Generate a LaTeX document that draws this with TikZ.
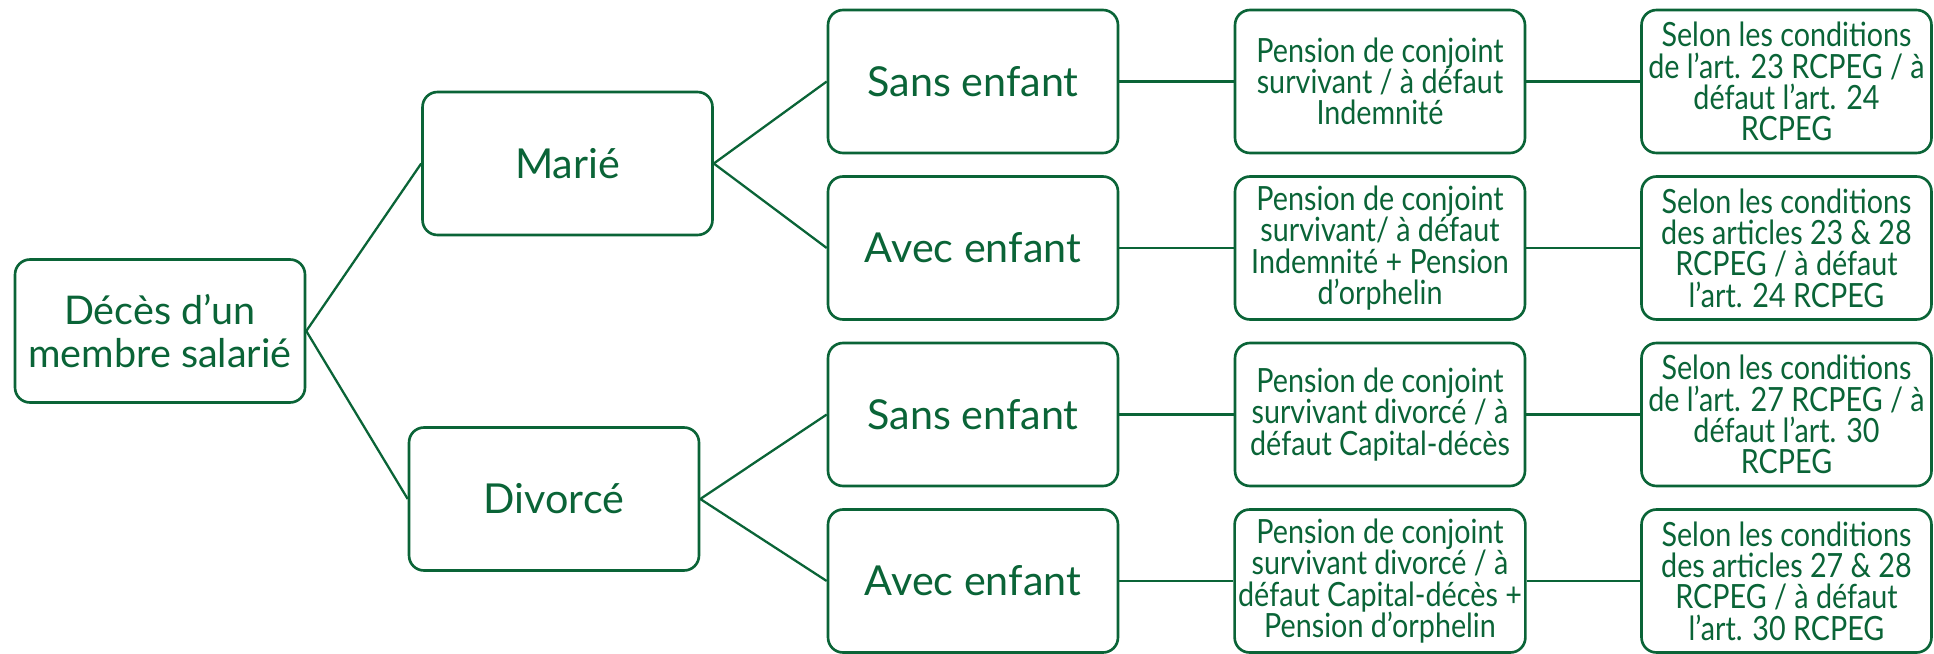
\documentclass[tikz,border=0pt]{standalone}
\usepackage{fontspec}
\setmainfont{Lato}
\newfontfamily\narrowfont[FakeStretch=0.86]{Lato}
\usetikzlibrary{positioning}
\definecolor{DecesGreen}{RGB}{10,100,55}

\begin{document}
\begin{tikzpicture}[x=0.02cm,y=-0.02cm,
  box/.style={draw=DecesGreen, line width=1.5pt, rounded corners=8.5pt, fill=white,
    minimum width=5.8cm, minimum height=2.86cm, align=center, text=DecesGreen, inner sep=2pt},
  bigtext/.style={box, font=\fontsize{23.5}{24.5}\selectfont},
  smalltext/.style={box, font=\narrowfont\fontsize{19}{17.8}\selectfont},
  link/.style={DecesGreen, line width=1.3pt}]
  \path[use as bounding box] (0,0) rectangle (1934,653);
  \path (160,331) node[bigtext, font=\fontsize{22.5}{24.5}\selectfont] (root) {Décès d’un\\membre salarié};
  \path (567.5,163.5) node[bigtext] (marie) {Marié};
  \path (554,499) node[bigtext] (divorce) {Divorcé};
  \path (973,81.5) node[bigtext] (ms) {Sans enfant};
  \path (973,248) node[bigtext] (ma) {Avec enfant};
  \path (973,414.5) node[bigtext] (ds) {Sans enfant};
  \path (973,581) node[bigtext] (da) {Avec enfant};
  \path (1380,81.5) node[smalltext] (pms) {Pension de conjoint\\survivant / à défaut\\Indemnité};
  \path (1380,248) node[smalltext] (pma) {Pension de conjoint\\survivant/ à défaut\\Indemnité + Pension\\d’orphelin};
  \path (1380,414.5) node[smalltext] (pds) {Pension de conjoint\\survivant divorcé / à\\défaut Capital-décès};
  \path (1380,581) node[smalltext] (pda) {Pension de conjoint\\survivant divorcé / à\\défaut Capital-décès +\\Pension d’orphelin};
  \path (1786.5,81.5) node[smalltext] (cms) {Selon les conditions\\de l’art. 23 RCPEG / à\\défaut l’art. 24\\RCPEG};
  \path (1786.5,248) node[smalltext] (cma) {Selon les conditions\\des articles 23 \& 28\\RCPEG / à défaut\\l’art. 24 RCPEG};
  \path (1786.5,414.5) node[smalltext] (cds) {Selon les conditions\\de l’art. 27 RCPEG / à\\défaut l’art. 30\\RCPEG};
  \path (1786.5,581) node[smalltext] (cda) {Selon les conditions\\des articles 27 \& 28\\RCPEG / à défaut\\l’art. 30 RCPEG};
  \draw[link] (root.east) -- (marie.west);
  \draw[link] (root.east) -- (divorce.west);
  \draw[link] (marie.east) -- (ms.west);
  \draw[link] (marie.east) -- (ma.west);
  \draw[link] (divorce.east) -- (ds.west);
  \draw[link] (divorce.east) -- (da.west);
  \foreach \a/\b/\c in {ms/pms/cms, ma/pma/cma, ds/pds/cds, da/pda/cda}{
    \draw[link] (\a.east) -- (\b.west);
    \draw[link] (\b.east) -- (\c.west);
  }
\end{tikzpicture}
\end{document}
